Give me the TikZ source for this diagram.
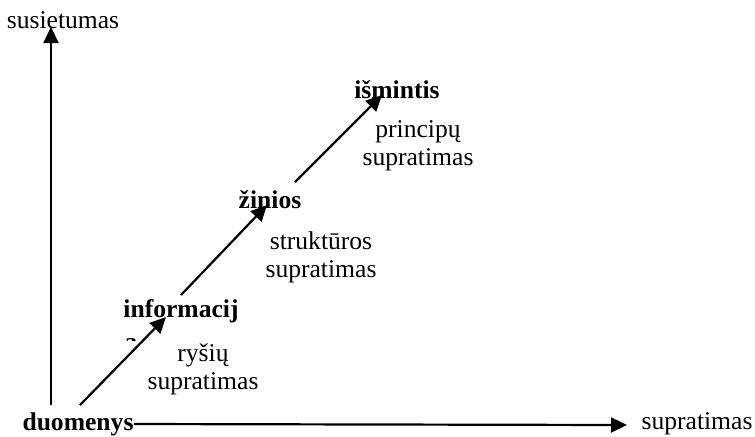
\documentclass[tikz,border=0pt]{standalone}
\usepackage{fontspec}
\setmainfont{Liberation Serif}
\usepackage{tikz}
\usetikzlibrary{arrows.meta,positioning}

\begin{document}
\begin{tikzpicture}[x=0.5pt, y=-0.5pt, font=\fontsize{12.8}{14}\selectfont]
    \tikzstyle{lvl} = [inner sep=0pt, font=\fontsize{12.8}{14}\selectfont\bfseries]
    \tikzstyle{note} = [inner sep=0pt, align=center]
    \tikzstyle{arrow} = [-{Triangle[length=8pt,width=7.5pt]}, line width=1.1pt]
    \useasboundingbox (0,0) rectangle (755,436);

    % axes
    \node [note] (yaxis) at (63,20) {susietumas};
    \node [lvl] (duomenys) at (78,424) {duomenys};
    \node [note] (xaxis) at (697,424) {supratimas};
    \coordinate (ybot) at (51,405);
    \coordinate (ytop) at (51,27);
    \coordinate (xtip) at (627,425);
    \draw [arrow] (ybot) -- (ytop);
    \draw [arrow] (duomenys.east) -- (xtip);

    % levels
    \node [lvl] (informacija) at (181,311) {informacij};
    \begin{scope}
        \clip (120,331) rectangle (145,340);
        \node [lvl, anchor=base] (cut) at (131,350) {a};
    \end{scope}
    \node [note] (rysiu) at (203,369) {ryšių\\supratimas};
    \node [lvl] (zinios) at (270,200) {žinios};
    \node [note] (strukturos) at (321,257) {struktūros\\supratimas};
    \node [lvl] (ismintis) at (397,90) {išmintis};
    \node [note] (principu) at (418,146) {principų\\supratimas};

    \coordinate (a0) at (80,405);
    \coordinate (a1) at (166,317);
    \coordinate (b0) at (181,295);
    \coordinate (b1) at (267,205);
    \coordinate (c0) at (295,182);
    \coordinate (c1) at (382,95);
    \draw [arrow] (a0) -- (a1);
    \draw [arrow] (b0) -- (b1);
    \draw [arrow] (c0) -- (c1);
\end{tikzpicture}
\end{document}
